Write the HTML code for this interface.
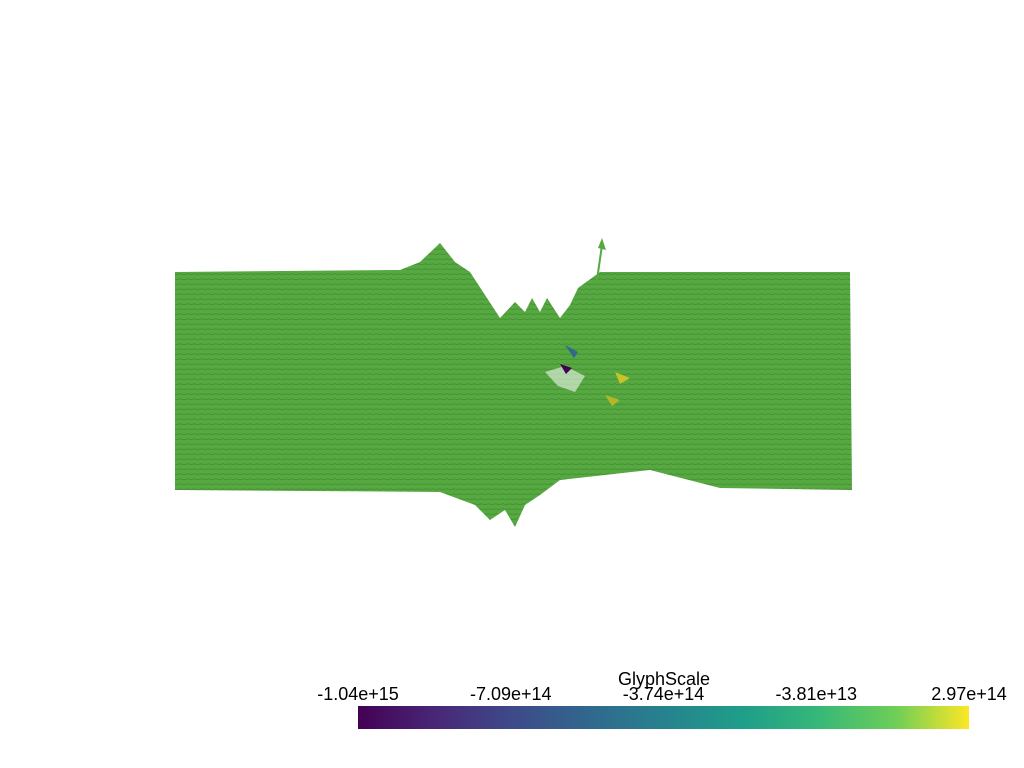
<!DOCTYPE html>
<html><head><meta charset="utf-8"><style>
body{margin:0;background:#fff;width:1024px;height:768px;overflow:hidden}
svg{display:block}
text{font-family:"Liberation Sans",sans-serif;fill:#000}
</style></head><body>
<svg width="1024" height="768">
<defs>
<pattern id="tex" width="7" height="5" patternUnits="userSpaceOnUse">
<rect width="7" height="5" fill="#55a940"/>
<path d="M0 4.5 L7 3.8" stroke="#3d7f2e" stroke-width="0.6"/>
</pattern>
<linearGradient id="viridis" x1="0" x2="1">
<stop offset="0" stop-color="#440154"/><stop offset="0.13" stop-color="#482878"/>
<stop offset="0.25" stop-color="#3e4989"/><stop offset="0.38" stop-color="#31688e"/>
<stop offset="0.5" stop-color="#26828e"/><stop offset="0.63" stop-color="#1f9e89"/>
<stop offset="0.75" stop-color="#35b779"/><stop offset="0.88" stop-color="#6ece58"/>
<stop offset="1" stop-color="#fde725"/></linearGradient>
</defs>
<path fill="url(#tex)" d="M175 272 L400 270 L420 262 L440 243 L455 262 L470 272 L485 295 L500 318 L515 302 L525 312 L532 298 L540 312 L547 298 L560 318 L570 305 L578 288 L600 272 L850 272 L852 490 L720 488 L650 470 L560 480 L540 495 L525 505 L515 527 L505 510 L490 520 L475 505 L440 492 L175 490 Z"/>
<path fill="#fff" opacity="0.55" d="M545 372 L565 366 L585 376 L575 392 L558 386 Z"/>
<line x1="597" y1="280" x2="602" y2="245" stroke="#55a940" stroke-width="2"/>
<path d="M598 248 L602 238 L606 250 Z" fill="#55a940"/>
<path d="M560 364 L572 368 L566 374 Z" fill="#440154"/>
<path d="M565 345 L578 352 L574 358 Z" fill="#31688e"/>
<path d="M615 372 L630 378 L620 384 Z" fill="#c9c22a"/>
<path d="M605 395 L620 400 L612 406 Z" fill="#b5b52a"/>
<g>
<text x="664" y="685" font-size="18" text-anchor="middle">GlyphScale</text>
<rect x="358" y="706" width="611" height="23" fill="url(#viridis)"/>
<g id="ticks"></g>
</g>
</svg>
<script>
const tickLabels=["-1.04e+15","-7.09e+14","-3.74e+14","-3.81e+13","2.97e+14"];
const g=document.getElementById('ticks');
tickLabels.forEach((t,i)=>{
const el=document.createElementNS('http://www.w3.org/2000/svg','text');


el.setAttribute('x',358+611*i/(tickLabels.length-1));
el.setAttribute('y',700);el.setAttribute('font-size','18');
el.setAttribute('text-anchor','middle');el.textContent=t;g.appendChild(el);
});
</script>
</body></html>
